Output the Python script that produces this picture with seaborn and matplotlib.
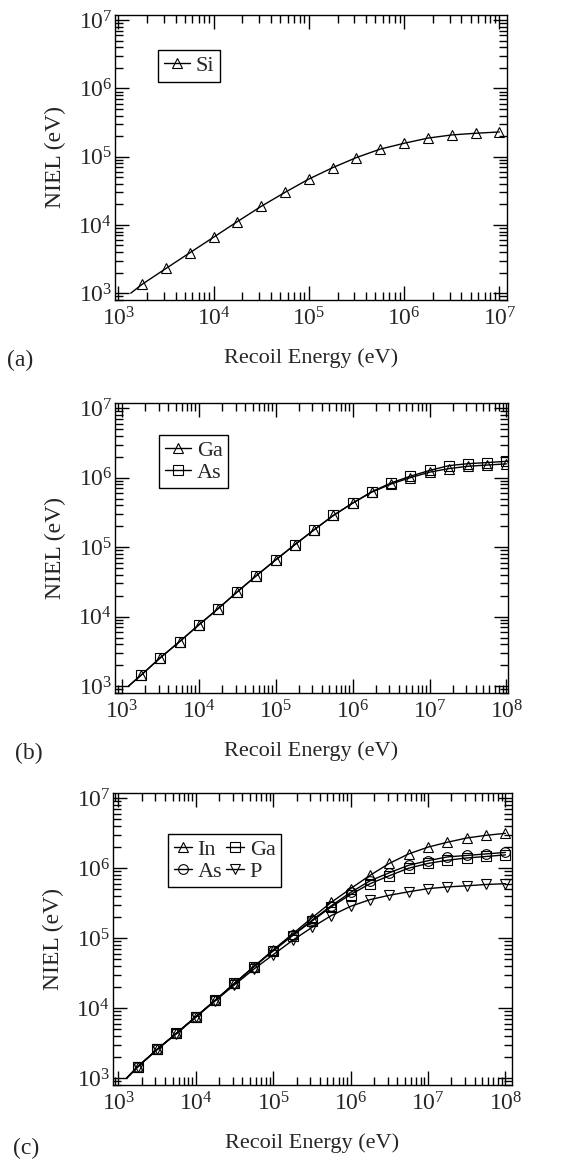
import numpy as np
import pandas as pd
import matplotlib
matplotlib.use("Agg")
import matplotlib.pyplot as plt
import seaborn as sns
from matplotlib.ticker import LogLocator, NullFormatter, LogFormatterSciNotation

# ---------------- data ----------------
# recoil energies (eV): first entry = start of the curve (no symbol)
E_a = [1.35e3, 1.78e3, 3.16e3, 5.62e3, 1.0e4, 1.78e4, 3.16e4, 5.62e4, 1.0e5,
       1.78e5, 3.16e5, 5.62e5, 1.0e6, 1.78e6, 3.16e6, 5.62e6, 1.0e7]
Si = [1.0e3, 1.35e3, 2.3e3, 3.9e3, 6.6e3, 1.12e4, 1.87e4, 3.0e4, 4.7e4,
      6.9e4, 9.7e4, 1.29e5, 1.57e5, 1.87e5, 2.08e5, 2.2e5, 2.3e5]

E_b = [1.22e3, 1.78e3, 3.16e3, 5.62e3, 1.0e4, 1.78e4, 3.16e4, 5.62e4, 1.0e5,
       1.78e5, 3.16e5, 5.62e5, 1.0e6, 1.78e6, 3.16e6, 5.62e6, 1.0e7,
       1.78e7, 3.16e7, 5.62e7, 1.0e8]
Ga_b = [1.0e3, 1.44e3, 2.56e3, 4.36e3, 7.6e3, 1.30e4, 2.27e4, 3.9e4, 6.56e4,
        1.09e5, 1.78e5, 2.86e5, 4.3e5, 6.2e5, 8.1e5, 1.0e6, 1.2e6,
        1.35e6, 1.46e6, 1.52e6, 1.58e6]
As_b = [1.0e3, 1.44e3, 2.56e3, 4.36e3, 7.6e3, 1.30e4, 2.27e4, 3.9e4, 6.56e4,
        1.09e5, 1.78e5, 2.86e5, 4.3e5, 6.3e5, 8.4e5, 1.05e6, 1.27e6,
        1.49e6, 1.59e6, 1.65e6, 1.72e6]

E_c = [1.28e3, 1.78e3, 3.16e3, 5.62e3, 1.0e4, 1.78e4, 3.16e4, 5.62e4, 1.0e5,
       1.78e5, 3.16e5, 5.62e5, 1.0e6, 1.78e6, 3.16e6, 5.62e6, 1.0e7,
       1.78e7, 3.16e7, 5.62e7, 1.0e8]
In_c = [1.0e3, 1.45e3, 2.56e3, 4.36e3, 7.5e3, 1.29e4, 2.25e4, 3.9e4, 6.8e4,
        1.15e5, 1.95e5, 3.25e5, 5.1e5, 7.9e5, 1.17e6, 1.6e6, 2.0e6,
        2.35e6, 2.7e6, 2.95e6, 3.15e6]
Ga_c = [1.0e3, 1.45e3, 2.56e3, 4.36e3, 7.5e3, 1.29e4, 2.25e4, 3.9e4, 6.6e4,
        1.09e5, 1.75e5, 2.8e5, 4.2e5, 6.0e5, 7.8e5, 1.0e6, 1.17e6,
        1.3e6, 1.4e6, 1.47e6, 1.55e6]
As_c = [1.0e3, 1.45e3, 2.56e3, 4.36e3, 7.5e3, 1.29e4, 2.25e4, 3.9e4, 6.6e4,
        1.1e5, 1.8e5, 2.9e5, 4.5e5, 6.6e5, 8.6e5, 1.1e6, 1.28e6,
        1.45e6, 1.52e6, 1.6e6, 1.68e6]
P_c = [1.0e3, 1.45e3, 2.56e3, 4.3e3, 7.4e3, 1.27e4, 2.15e4, 3.6e4, 5.8e4,
       9.3e4, 1.42e5, 2.1e5, 2.85e5, 3.55e5, 4.1e5, 4.6e5, 5.1e5,
       5.4e5, 5.6e5, 5.85e5, 6.0e5]

panel_labels = ["(a)", "(b)", "(c)"]
xlabel = "Recoil Energy (eV)"
ylabel = "NIEL (eV)"

# ---------------- style ----------------
sns.set_style("white")
plt.rcParams["font.family"] = ["Liberation Serif", "DejaVu Serif"]
plt.rcParams["mathtext.fontset"] = "custom"
plt.rcParams["mathtext.rm"] = "Liberation Serif"
plt.rcParams["mathtext.it"] = "Liberation Serif:italic"
plt.rcParams["mathtext.bf"] = "Liberation Serif:bold"
plt.rcParams["legend.numpoints"] = 1

W, H = 571, 1164
fig = plt.figure(figsize=(W / 100, H / 100), dpi=100)


def ax_at(l, r, t, b):
    return fig.add_axes([l / W, 1 - b / H, (r - l) / W, (b - t) / H])


axes = [ax_at(115, 507, 15, 300), ax_at(115, 508, 403, 693), ax_at(113, 512, 793, 1085)]
xlims = [(10 ** 2.965, 10 ** 7.08), (10 ** 2.91, 10 ** 8.02), (10 ** 2.93, 10 ** 8.085)]
ylim = (10 ** 2.9, 10 ** 7.075)

mstyle = {"^": 7.5, "s": 6.5, "o": 7.0, "v": 7.5}


def series(ax, x, y, marker, label):
    df = pd.DataFrame({"E": x, "NIEL": y})
    sns.lineplot(data=df, x="E", y="NIEL", ax=ax, color="black", lw=1.0,
                 marker=marker, ms=mstyle[marker], markerfacecolor="none",
                 markeredgecolor="black", markeredgewidth=0.8,
                 markevery=slice(1, None), label=label, legend=False,
                 sort=False, estimator=None)


series(axes[0], E_a, Si, "^", "Si")
series(axes[1], E_b, Ga_b, "^", "Ga")
series(axes[1], E_b, As_b, "s", "As")
series(axes[2], E_c, In_c, "^", "In")
series(axes[2], E_c, Ga_c, "s", "Ga")
series(axes[2], E_c, As_c, "o", "As")
series(axes[2], E_c, P_c, "v", "P")

for ax, xl in zip(axes, xlims):
    ax.set_xscale("log")
    ax.set_yscale("log")
    ax.set_xlim(*xl)
    ax.set_ylim(*ylim)
    for axis in (ax.xaxis, ax.yaxis):
        axis.set_major_locator(LogLocator(base=10, numticks=30))
        axis.set_minor_locator(LogLocator(base=10, subs=np.arange(2, 10), numticks=300))
        axis.set_minor_formatter(NullFormatter())
        axis.set_major_formatter(LogFormatterSciNotation())
    ax.tick_params(which="both", direction="in", top=True, right=True,
                   bottom=True, left=True, color="black", width=1.0)
    ax.tick_params(which="major", length=10, labelsize=17)
    ax.tick_params(which="minor", length=5.5)
    ax.tick_params(axis="x", which="major", pad=5)
    ax.tick_params(axis="y", which="major", pad=2)
    for s in ax.spines.values():
        s.set_color("black")
        s.set_linewidth(1.0)
        s.set_visible(True)
    ax.set_xlabel(xlabel, fontsize=16, labelpad=13)
    ax.set_ylabel(ylabel, fontsize=17, labelpad=9)

leg_kw = dict(loc="upper left", borderaxespad=0, frameon=True, fancybox=False,
              edgecolor="black", framealpha=1, fontsize=16, borderpad=0.25,
              labelspacing=0.05, handletextpad=0.25)

la = axes[0].legend(handles=axes[0].get_lines()[:1], bbox_to_anchor=(0.11, 0.877),
                    handlelength=1.2, **leg_kw)
lb = axes[1].legend(handles=axes[1].get_lines()[:2], bbox_to_anchor=(0.112, 0.89),
                    handlelength=1.2, **leg_kw)
lines_c = axes[2].get_lines()[:4]
lc = axes[2].legend(handles=[lines_c[0], lines_c[2], lines_c[1], lines_c[3]],
                    bbox_to_anchor=(0.139, 0.86), ncol=2, handlelength=0.8,
                    columnspacing=0.2, **leg_kw)
for lg in (la, lb, lc):
    lg.get_frame().set_linewidth(1.0)

fig.text(7 / W, 1 - 360 / H, panel_labels[0], fontsize=17, va="center", ha="left")
fig.text(15 / W, 1 - 753 / H, panel_labels[1], fontsize=17, va="center", ha="left")
fig.text(13 / W, 1 - 1148 / H, panel_labels[2], fontsize=17, va="center", ha="left")

fig.savefig("out.png", dpi=100)
